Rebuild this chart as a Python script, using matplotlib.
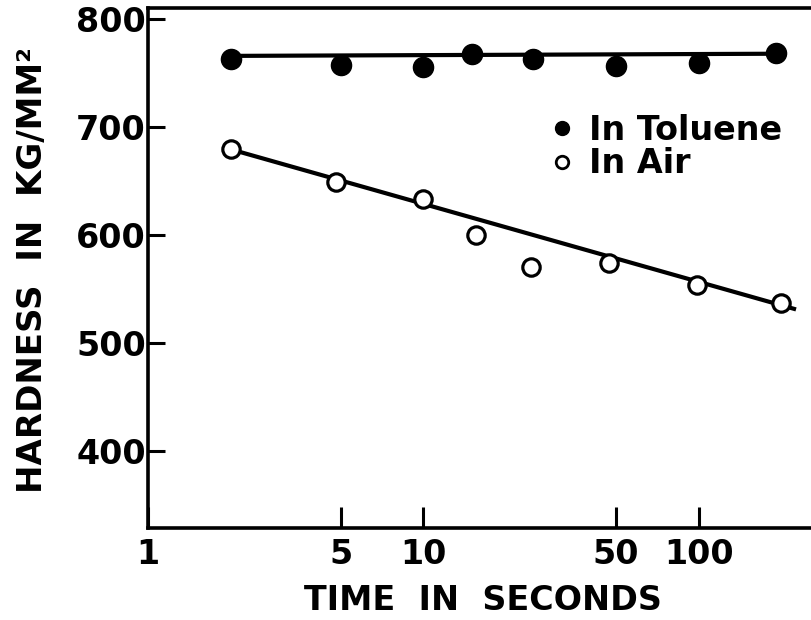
import matplotlib
matplotlib.use("Agg")
import matplotlib.pyplot as plt
from matplotlib.lines import Line2D
from matplotlib.ticker import FixedLocator, NullLocator, FixedFormatter

# Hardness measurements versus loading time
time_toluene = [2, 5, 10, 15, 25, 50, 100, 190]
hard_toluene = [763, 757, 755, 767, 763, 756, 759, 768]

time_air = [2, 4.8, 10, 15.5, 24.5, 47, 98, 198]
hard_air = [679, 649, 633, 600, 570, 574, 554, 537]

# Fitted trend lines (straight on log time)
fit_toluene_t = [2, 190]
fit_toluene_h = [765.5, 767.5]
fit_air_t = [2, 225]
fit_air_h = [679, 531]

x_ticks = [1, 5, 10, 50, 100]
x_tick_labels = ["1", "5", "10", "50", "100"]
y_ticks = [400, 500, 600, 700, 800]

plt.rcParams["font.family"] = ["DejaVu Sans"]
plt.rcParams["font.weight"] = "bold"

fig = plt.figure(figsize=(8.11, 6.20), dpi=100)
ax = fig.add_axes([148 / 811, 92 / 620, 663 / 811, 520 / 620])

ax.plot(fit_toluene_t, fit_toluene_h, color="black", lw=3.0, zorder=2,
        solid_capstyle="butt")
ax.plot(fit_air_t, fit_air_h, color="black", lw=3.0, zorder=2,
        solid_capstyle="butt")
ax.plot(time_toluene, hard_toluene, ls="none", marker="o", ms=14.5,
        mfc="black", mec="black", zorder=3)
ax.plot(time_air, hard_air, ls="none", marker="o", ms=12.5,
        mfc="white", mec="black", mew=2.3, zorder=3)

ax.set_xscale("log")
ax.set_xlim(1, 255)
ax.set_ylim(328.8, 809.8)

ax.xaxis.set_major_locator(FixedLocator(x_ticks))
ax.xaxis.set_major_formatter(FixedFormatter(x_tick_labels))
ax.xaxis.set_minor_locator(NullLocator())
ax.yaxis.set_major_locator(FixedLocator(y_ticks))
ax.yaxis.set_minor_locator(NullLocator())

ax.tick_params(axis="x", direction="in", length=15, width=2.2, pad=7,
               labelsize=24)
ax.tick_params(axis="y", direction="in", length=12, width=2.2, pad=1.5,
               labelsize=24)
for lab in ax.get_xticklabels() + ax.get_yticklabels():
    lab.set_fontweight("bold")

for side in ("left", "bottom", "top"):
    ax.spines[side].set_linewidth(2.6)
ax.spines["right"].set_visible(False)

ax.set_xlabel("TIME  IN  SECONDS", fontsize=24, fontweight="bold", va="center")
ax.xaxis.set_label_coords((483 - 148) / 663, (528 - 600) / 520)
ax.set_ylabel("HARDNESS  IN  KG/MM²", fontsize=24.5, fontweight="bold",
              va="center")
ax.yaxis.set_label_coords((33 - 148) / 663, (528 - 270) / 520)

handles = [
    Line2D([], [], ls="none", marker="o", ms=10, mfc="black", mec="black"),
    Line2D([], [], ls="none", marker="o", ms=9, mfc="white", mec="black", mew=2.0),
]
leg = ax.legend(handles, ["In Toluene", "In Air"], loc="upper left",
                bbox_to_anchor=(552 / 811, 506 / 620),
                bbox_transform=fig.transFigure, frameon=False,
                handlelength=0.6, handletextpad=0.5, labelspacing=0.01,
                borderpad=0, borderaxespad=0,
                prop={"size": 24, "weight": "bold"})

fig.savefig("out.png", dpi=100, facecolor="white")
